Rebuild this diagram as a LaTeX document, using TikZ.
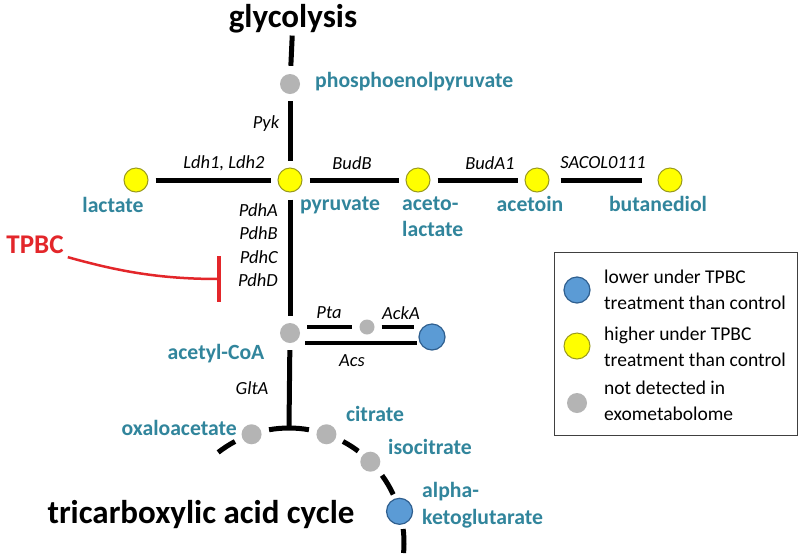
\documentclass[tikz,border=0pt]{standalone}
\usepackage{fontspec}
\setmainfont{Carlito}
\usetikzlibrary{calc}
\definecolor{metteal}{HTML}{31859C}
\definecolor{cgray}{HTML}{B4B4B4}
\definecolor{cyellow}{HTML}{FFFF00}
\definecolor{cyline}{HTML}{9A9A1E}
\definecolor{cblue}{HTML}{5B9BD5}
\definecolor{cbline}{HTML}{2F5F8F}
\definecolor{cred}{HTML}{E3262A}
\begin{document}
\begin{tikzpicture}[x=1pt,y=-1pt,
  pline/.style={line width=5pt, black},
  gap/.style={shorten <=7pt, shorten >=7pt},
  dotg/.style={circle, fill=cgray, inner sep=0pt, minimum size=20pt},
  doty/.style={circle, fill=cyellow, draw=cyline, line width=1pt, inner sep=0pt, minimum size=24pt},
  dotb/.style={circle, fill=cblue, draw=cbline, line width=1.2pt, inner sep=0pt, minimum size=26pt},
  met/.style={text=metteal, font=\bfseries\fontsize{21.7}{26.5}\selectfont, inner sep=0pt},
  enz/.style={font=\itshape\fontsize{18.5}{23.3}\selectfont, inner sep=0pt},
  head/.style={font=\bfseries\fontsize{33}{40}\selectfont, inner sep=0pt},
  leg/.style={font=\fontsize{19.5}{26}\selectfont, inner sep=0pt, anchor=west, align=left}]
\useasboundingbox (0,0) rectangle (800,558);
\fill[white] (0,0) rectangle (800,558);

% headings
\node[head] (glyc) at (293,19) {glycolysis};
\node[head] (tca) at (201,515) {tricarboxylic acid cycle};

% metabolites
\node[dotg] (pep) at (290,84) {};
\node[doty] (pyr) at (290,180) {};
\node[doty] (lac) at (136,180) {};
\node[doty] (acl) at (418,180) {};
\node[doty] (acn) at (537,180) {};
\node[doty] (btd) at (670,180) {};
\node[dotg] (acoa) at (290,333) {};
\node[dotg, minimum size=15pt] (acp) at (367,327) {};
\node[dotb] (acet) at (432,337) {};
\coordinate (tcac) at (289,543);
\coordinate (gltend) at ($(tcac)+(-90:115)$);
\node[dotg] (oaa) at ($(tcac)+(-109:115)$) {};
\node[dotg] (cit) at ($(tcac)+(-71:115)$) {};
\node[dotg] (icit) at ($(tcac)+(-45:115)$) {};
\node[dotb] (akg) at ($(tcac)+(-16:115)$) {};

% metabolite labels
\node[met, anchor=west] (pepl) at (315,82) {phosphoenolpyruvate};
\node[met] (lacl) at (113,205) {lactate};
\node[met] (pyrl) at (340,205) {pyruvate};
\node[met, anchor=west, align=left] (acll) at (402,216.5) {aceto-\\lactate};
\node[met] (acnl) at (530,204) {acetoin};
\node[met] (btdl) at (658,204) {butanediol};
\node[met] (acoal) at (216,354) {acetyl-CoA};
\node[met, anchor=east] (oaal) at (237,428) {oxaloacetate};
\node[met] (citl) at (375,414) {citrate};
\node[met] (icitl) at (430,447) {isocitrate};
\node[met, anchor=west, align=left] (akgl) at (422,505) {alpha-\\ketoglutarate};

% enzyme labels
\node[enz] (pyk) at (266,124) {Pyk};
\node[enz] (ldh) at (224,163) {Ldh1, Ldh2};
\node[enz] (budb) at (352,163) {BudB};
\node[enz] (buda) at (490,163) {BudA1};
\node[enz] (sacol) at (603,163) {SACOL0111};
\node[enz, anchor=east, align=right] (pdh) at (278,245) {PdhA\\PdhB\\PdhC\\PdhD};
\node[enz] (pta) at (329,313) {Pta};
\node[enz] (acka) at (401,313) {AckA};
\node[enz] (acs) at (352,361) {Acs};
\node[enz] (glta) at (252,388) {GltA};

% pathway lines
\draw[pline, shorten <=2pt, shorten >=8pt] (glyc) -- (pep);
\draw[pline, gap] (pep) -- (pyr);
\draw[pline, gap] (lac) -- (pyr);
\draw[pline, gap] (pyr) -- (acl);
\draw[pline, gap] (acl) -- (acn);
\draw[pline, shorten <=11pt, shorten >=16pt] (acn) -- (btd);
\draw[pline, gap] (pyr) -- (acoa);
\draw[pline, shorten <=7pt] (acoa) -- (gltend);

% acetate branch
\draw[pline, line width=4pt, gap] (acoa.east |- acp) -- (acp);
\draw[pline, line width=4pt, shorten <=7pt, shorten >=4pt] (acp) -- (acet.west |- acp);
\draw[pline, line width=4pt, shorten <=15pt, shorten >=1pt] (acoa.south) -- (acet.west |- acoa.south);

% TCA cycle dashes
\draw[pline] ($(tcac)+(-128:115)$) arc[start angle=-128, end angle=-118, radius=115];
\draw[pline] ($(tcac)+(-100:115)$) arc[start angle=-100, end angle=-80, radius=115];
\draw[pline] ($(tcac)+(-62:115)$) arc[start angle=-62, end angle=-53, radius=115];
\draw[pline] ($(tcac)+(-36:115)$) arc[start angle=-36, end angle=-25, radius=115];
\draw[pline] ($(tcac)+(-7:115)$) arc[start angle=-7, end angle=5, radius=115];

% TPBC inhibition
\node[font=\bfseries\fontsize{27}{30}\selectfont, text=cred, inner sep=0pt] (tpbc) at (35,245) {TPBC};
\coordinate (inh) at (219,279);
\draw[cred, line width=2.5pt] ([xshift=4pt,yshift=-3pt]tpbc.south east) .. controls +(50,14) and +(-60,0) .. (inh);
\draw[cred, line width=3.5pt] ([yshift=23pt]inh) -- ([yshift=-23pt]inh);

% legend
\node[draw=black!75, line width=0.9pt, minimum width=243pt, minimum height=183pt, inner sep=0pt, anchor=north west] (legbox) at (554,252) {};
\node[dotb] (lb) at (577,290) {};
\node[doty, minimum size=26pt] (ly) at (577,346) {};
\node[dotg] (lg) at (577,403) {};
\node[leg] (lbt) at (604,290) {lower under TPBC\\treatment than control};
\node[leg] (lyt) at (604,347) {higher under TPBC\\treatment than control};
\node[leg] (lgt) at (604,401) {not detected in\\exometabolome};
\end{tikzpicture}
\end{document}
